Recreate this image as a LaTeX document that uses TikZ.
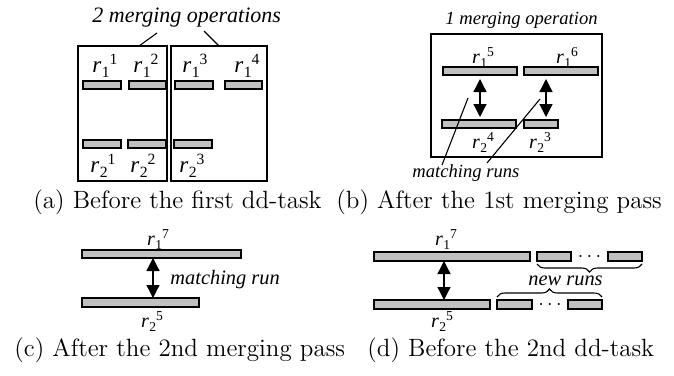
\documentclass[tikz,border=0pt]{standalone}
\usepackage{fontspec}
\newfontfamily\timesfam{Liberation Serif}[UprightFont={Liberation Serif}, ItalicFont={Liberation Serif Italic}]
\usetikzlibrary{arrows.meta,decorations.pathreplacing}
\definecolor{barfill}{RGB}{192,192,192}
\newcommand{\rlab}[2]{\textit{r}\kern0.02em\raisebox{-0.22em}{\scalebox{0.68}{#1}}\raisebox{0.34em}{\scalebox{0.68}{#2}}}
\newcommand{\runbar}[5]{\node[runbox, minimum width={(#4-#2)*0.5pt}, minimum height={(#5-#3)*0.5pt}] (#1) at ({(#2+#4)/2},{(#3+#5)/2}) {};}
\begin{document}
\begin{tikzpicture}[x=0.5pt,y=-0.5pt,
  runbox/.style={draw, fill=barfill, line width=0.65pt, inner sep=0pt, outer sep=0pt},
  frame/.style={draw, line width=0.65pt, inner sep=0pt, outer sep=0pt},
  lead/.style={line width=0.55pt},
  dbl/.style={{Triangle[length=6.5pt,width=6.5pt]}-{Triangle[length=6.5pt,width=6.5pt]}, line width=0.65pt},
  lblA/.style={font=\timesfam\fontsize{11.5}{13}\selectfont, inner sep=0pt, anchor=base},
  lblB/.style={font=\timesfam\fontsize{10}{12}\selectfont, inner sep=0pt, anchor=base},
  lblC/.style={font=\timesfam\fontsize{10}{12}\selectfont, inner sep=0pt, anchor=base},
  itA/.style={font=\timesfam\itshape\fontsize{11}{13}\selectfont, inner sep=0pt, anchor=base west},
  itB/.style={font=\timesfam\itshape\fontsize{9.3}{11}\selectfont, inner sep=0pt, anchor=base west},
  itC/.style={font=\timesfam\itshape\fontsize{10.2}{12}\selectfont, inner sep=0pt, anchor=base west},
  captxt/.style={font=\fontsize{12.5}{15}\selectfont, inner sep=0pt, anchor=base west},
  dotsnode/.style={font=\fontsize{10}{12}\selectfont, inner sep=0pt, anchor=base},
  brc/.style={decorate, decoration={brace, amplitude=4pt}, line width=0.55pt}
]
\useasboundingbox (0,0) rectangle (674,375);

% ---------- (a) ----------
\node[frame, minimum width=44.5pt, minimum height=67.5pt] (boxL) at (122.5,113.5) {};
\node[frame, minimum width=48pt, minimum height=67.5pt] (boxR) at (219,113.5) {};
\node[itA] (ttlA) at (92,22) {2 merging operations};
\coordinate (la1) at (157,33);
\coordinate (la2) at (204,31);
\draw[lead] (boxL.north -| 139,0) -- (la1);
\draw[lead] (boxR.north -| 219,0) -- (la2);
\runbar{a1}{83}{81}{121}{89}
\runbar{a2}{129}{81}{166}{89}
\runbar{a3}{175}{81}{213}{89}
\runbar{a4}{225}{81}{262}{89}
\runbar{a5}{83}{140}{121}{148}
\runbar{a6}{128}{140}{166}{148}
\runbar{a7}{174}{140}{212}{148}
\node[lblA] (ra1) at (105,72) {\rlab{1}{1}};
\node[lblA] (ra2) at (146,72) {\rlab{1}{2}};
\node[lblA] (ra3) at (195,72) {\rlab{1}{3}};
\node[lblA] (ra4) at (247,72) {\rlab{1}{4}};
\node[lblA] (ra5) at (103,172) {\rlab{2}{1}};
\node[lblA] (ra6) at (143,172) {\rlab{2}{2}};
\node[lblA] (ra7) at (192,172) {\rlab{2}{3}};
\node[captxt] (capA) at (33,208) {(a) Before the first dd-task};

% ---------- (b) ----------
\node[frame, minimum width=85.5pt, minimum height=61.5pt] (boxB) at (516.5,95.5) {};
\node[itB] (ttlB) at (445,25) {1 merging operation};
\runbar{b1}{443}{67}{517}{75}
\runbar{b2}{524}{67}{598}{75}
\runbar{b3}{442}{120}{516}{128}
\runbar{b4}{524}{120}{558}{128}
\draw[dbl, shorten <=2pt, shorten >=1.5pt] (b1.south -| 480,0) -- (b3.north -| 480,0);
\draw[dbl, shorten <=2pt, shorten >=1.5pt] (b2.south -| 546,0) -- (b4.north -| 546,0);
\node[lblB] (rb1) at (483,63) {\rlab{1}{5}};
\node[lblB] (rb2) at (567,63) {\rlab{1}{6}};
\node[lblB] (rb3) at (483,148) {\rlab{2}{4}};
\node[lblB] (rb4) at (540,148) {\rlab{2}{3}};
\node[itB] (mr) at (412,177) {matching runs};
\coordinate (mb1) at (468,98);
\coordinate (mb2) at (540,99);
\draw[lead] (442,165) coordinate (ms1) -- (mb1);
\draw[lead] (487,163) coordinate (ms2) -- (mb2);
\node[captxt] (capB) at (336,208) {(b) After the 1st merging pass};

% ---------- (c) ----------
\runbar{c1}{82}{250}{241}{258}
\runbar{c2}{82}{298}{199}{307}
\draw[dbl] (c1.south -| 153,0) -- (c2.north -| 153,0);
\node[itC] (mrc) at (170,284) {matching run};
\node[lblC] (rc1) at (158,245) {\rlab{1}{7}};
\node[lblC] (rc2) at (152,327) {\rlab{2}{5}};
\node[captxt] (capC) at (14,356) {(c) After the 2nd merging pass};

% ---------- (d) ----------
\runbar{d1}{374}{252}{530}{261}
\runbar{d2}{537}{252}{571}{261}
\runbar{d3}{608}{252}{642}{261}
\runbar{d4}{374}{300}{490}{309}
\runbar{d5}{497}{300}{532}{309}
\runbar{d6}{568}{300}{602}{309}
\node[dotsnode] (dt1) at (589.5,261.5) {$\cdots$};
\node[dotsnode] (dt2) at (550,309.5) {$\cdots$};
\draw[dbl] (d1.south -| 444,0) -- (d4.north -| 444,0);
\draw[brc] ([yshift=-1.5pt]d3.south east) -- ([yshift=-1.5pt]d2.south west);
\draw[brc] ([yshift=1.5pt]d5.north west) -- ([yshift=1.5pt]d6.north east);
\node[itC] (nr) at (528,285) {new runs};
\node[lblC] (rd1) at (446,245) {\rlab{1}{7}};
\node[lblC] (rd2) at (442,327) {\rlab{2}{5}};
\node[captxt] (capD) at (367,356) {(d) Before the 2nd dd-task};
\end{tikzpicture}
\end{document}
